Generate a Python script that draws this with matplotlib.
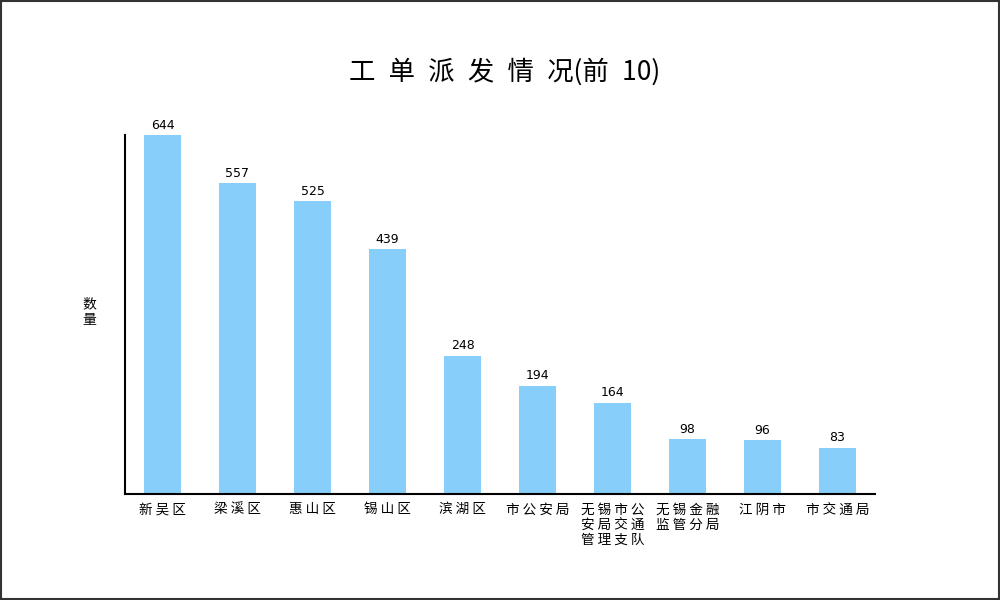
import matplotlib
matplotlib.use('Agg')
import matplotlib.pyplot as plt
from matplotlib.patches import Rectangle

plt.rcParams['font.family'] = ['Noto Sans CJK SC', 'DejaVu Sans']

# top 10 work-order departments
categories = ['新吴区', '梁溪区', '惠山区', '锡山区', '滨湖区', '市公安局',
              '无锡市公安局交通管理支队', '无锡金融监管分局', '江阴市', '市交通局']
counts = [644, 557, 525, 439, 248, 194, 164, 98, 96, 83]

title = '工单派发情况(前10)'
ylabel = '数量'


def wrap(s, n=4):
    # 4 chars per line, spaced out like the original renderer
    return '\n'.join(' '.join(s[i:i + n]) for i in range(0, len(s), n))


fig = plt.figure(figsize=(10, 6), dpi=100)
ax = fig.add_axes([0.125, 0.1767, 0.75, 0.5983])

x = range(len(categories))
bars = ax.bar(x, counts, width=0.5, color='#87CEFA')

for b, v in zip(bars, counts):
    ax.text(b.get_x() + b.get_width() / 2, v + 6, str(v), ha='center', va='bottom',
            fontsize=9, family='DejaVu Sans', clip_on=False)

ax.set_xlim(-0.5, len(categories) - 0.5)
ax.set_ylim(0, max(counts))
ax.set_xticks(list(x))
ax.set_xticklabels([wrap(c) for c in categories], fontsize=9.8, va='top',
                   multialignment='left', linespacing=1.1)
ax.tick_params(axis='x', length=0, pad=6)
ax.set_yticks([])
for s in ['top', 'right']:
    ax.spines[s].set_visible(False)
ax.spines['left'].set_linewidth(1.5)
ax.spines['bottom'].set_linewidth(1.5)

sp = '\u2002'
spaced_title = sp.join(title[:6]) + title[6:8] + sp + title[8:]
fig.text(0.505, 0.88, spaced_title, ha='center', va='center', fontsize=19)
fig.text(0.089, 0.48, '\n'.join(ylabel), ha='center', va='center', fontsize=10,
         linespacing=1.1)

# figure border
fig.patches.append(Rectangle((0.001, 0.002), 0.998, 0.996, transform=fig.transFigure,
                             fill=False, edgecolor='#333333', linewidth=1.5))

plt.savefig('out.png', dpi=100)
